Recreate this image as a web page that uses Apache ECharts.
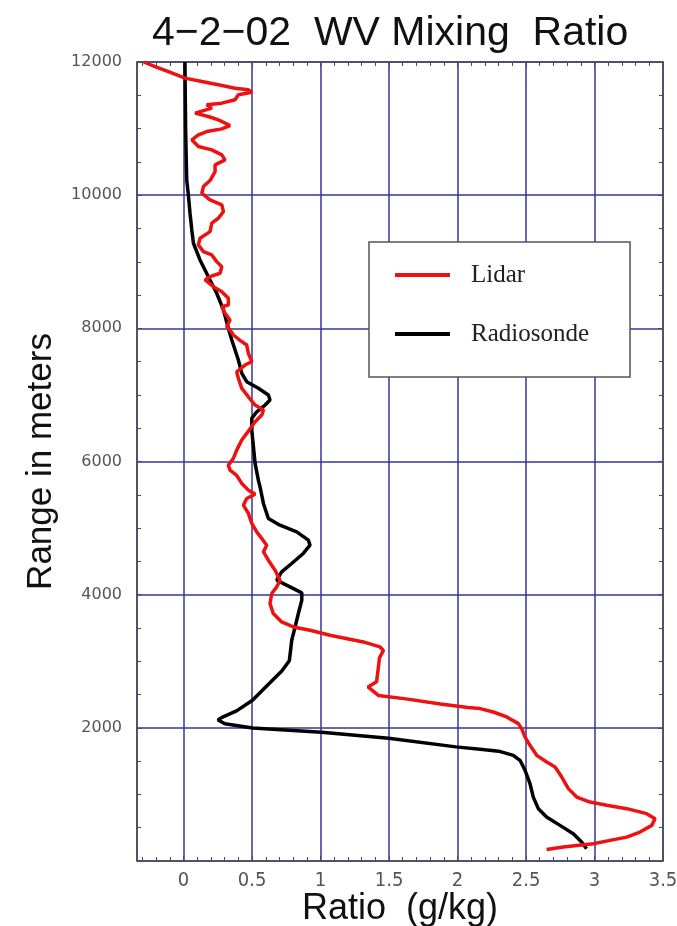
<!DOCTYPE html>
<html>
<head>
<meta charset="utf-8">
<title>4-2-02 WV Mixing Ratio</title>
<script src="https://cdn.jsdelivr.net/npm/echarts@6/dist/echarts.min.js"></script>
<style>
  html, body { margin: 0; padding: 0; background: #ffffff; }
  #chart { width: 677px; height: 926px; }
</style>
</head>
<body>
<div id="chart"></div>
<script>
// Water vapour mixing ratio profiles, [ratio g/kg, range m], top to bottom.
const lidarProfile = [
  [-0.29, 12000], [-0.208, 11932], [-0.111, 11857], [0.011, 11758], [0.133, 11707],
  [0.254, 11657], [0.376, 11607], [0.473, 11582], [0.498, 11547], [0.400, 11507],
  [0.376, 11432], [0.279, 11382], [0.169, 11357], [0.206, 11307], [0.084, 11232],
  [0.181, 11181], [0.254, 11131], [0.339, 11046], [0.279, 10996], [0.169, 10956],
  [0.108, 10906], [0.060, 10831], [0.108, 10730], [0.206, 10680], [0.279, 10605],
  [0.303, 10530], [0.230, 10455], [0.230, 10354], [0.193, 10220], [0.145, 10129],
  [0.133, 10029], [0.193, 9929], [0.279, 9854], [0.291, 9753], [0.254, 9653],
  [0.206, 9579], [0.193, 9453], [0.120, 9353], [0.108, 9253], [0.145, 9152],
  [0.206, 9102], [0.242, 9002], [0.279, 8926], [0.266, 8827], [0.193, 8776],
  [0.157, 8726], [0.218, 8626], [0.279, 8551], [0.327, 8451], [0.327, 8351],
  [0.279, 8325], [0.303, 8226], [0.339, 8125], [0.315, 8025], [0.339, 7975],
  [0.364, 7900], [0.412, 7820], [0.461, 7749], [0.473, 7625], [0.498, 7499],
  [0.449, 7449], [0.388, 7348], [0.400, 7249], [0.425, 7099], [0.473, 6972],
  [0.522, 6848], [0.583, 6773], [0.571, 6697], [0.522, 6597], [0.461, 6422],
  [0.425, 6322], [0.388, 6171], [0.364, 6047], [0.327, 5946], [0.339, 5871],
  [0.388, 5790], [0.425, 5671], [0.473, 5570], [0.522, 5510], [0.461, 5445],
  [0.437, 5345], [0.473, 5220], [0.498, 5070], [0.534, 4943], [0.571, 4844],
  [0.607, 4743], [0.583, 4643], [0.619, 4518], [0.668, 4368], [0.704, 4217],
  [0.680, 4117], [0.644, 4017], [0.631, 3867], [0.655, 3717], [0.716, 3591],
  [0.801, 3515], [0.923, 3466], [1.069, 3391], [1.312, 3290], [1.434, 3215],
  [1.459, 3161], [1.430, 3050], [1.422, 2901], [1.409, 2693], [1.346, 2615],
  [1.422, 2486], [1.623, 2435], [1.875, 2357], [2.076, 2306], [2.164, 2289],
  [2.261, 2238], [2.359, 2163], [2.444, 2063], [2.468, 1988], [2.493, 1862],
  [2.529, 1737], [2.578, 1587], [2.651, 1486], [2.712, 1411], [2.761, 1261],
  [2.809, 1087], [2.870, 960], [2.967, 885], [3.089, 836], [3.235, 786],
  [3.381, 711], [3.442, 636], [3.418, 535], [3.332, 434], [3.235, 359],
  [3.113, 310], [2.991, 260], [2.870, 234], [2.772, 209], [2.650, 174]
];

const radiosondeProfile = [
  [0.010, 12000], [0.015, 11000], [0.020, 10500], [0.023, 10229], [0.035, 10004],
  [0.047, 9729], [0.060, 9478], [0.072, 9278], [0.120, 9027], [0.181, 8776],
  [0.242, 8527], [0.291, 8276], [0.327, 8001], [0.352, 7825], [0.376, 7675],
  [0.400, 7524], [0.425, 7324], [0.461, 7198], [0.546, 7099], [0.619, 6998],
  [0.631, 6923], [0.595, 6848], [0.534, 6747], [0.498, 6648], [0.498, 6472],
  [0.510, 6221], [0.522, 5971], [0.546, 5720], [0.558, 5620], [0.583, 5370],
  [0.619, 5145], [0.704, 5044], [0.826, 4943], [0.911, 4819], [0.923, 4743],
  [0.874, 4619], [0.789, 4468], [0.716, 4342], [0.680, 4217], [0.777, 4117],
  [0.863, 4027], [0.863, 3917], [0.838, 3717], [0.814, 3515], [0.790, 3319],
  [0.772, 3008], [0.717, 2854], [0.616, 2647], [0.503, 2414], [0.390, 2258],
  [0.277, 2154], [0.251, 2118], [0.302, 2061], [0.503, 1999], [1.007, 1932],
  [1.497, 1843], [1.988, 1714], [2.200, 1670], [2.300, 1650], [2.407, 1587],
  [2.456, 1512], [2.493, 1362], [2.529, 1162], [2.553, 960], [2.590, 786],
  [2.650, 660], [2.748, 535], [2.845, 410], [2.906, 284], [2.942, 185]
];

const rangeTicks = [2000, 4000, 6000, 8000, 10000, 12000];
const ratioTicks = [0, 0.5, 1, 1.5, 2, 2.5, 3, 3.5];
const seriesNames = ['Lidar', 'Radiosonde'];

const gridColor = '#34349a';
const frameColor = '#4a4a5a';
const labelColor = '#555555';

const chart = echarts.init(document.getElementById('chart'), null, { renderer: 'canvas' });

const insideTick = { show: true, inside: true, length: 5, lineStyle: { color: frameColor, width: 1 } };
const frameLine = { show: true, onZero: false, lineStyle: { color: frameColor, width: 1.5 } };

// Opposite frame edges: inward ticks only, no labels or grid.
function frameAxis(extra) {
  return Object.assign({
    type: 'value',
    axisLine: frameLine,
    axisTick: insideTick,
    axisLabel: { show: false },
    splitLine: { show: false }
  }, extra);
}

chart.setOption({
  animation: false,
  backgroundColor: '#ffffff',
  title: {
    text: '4\u22122\u221202  WV Mixing  Ratio',
    left: 147,
    top: 8,
    textStyle: {
      fontFamily: 'Liberation Sans, Arial, sans-serif',
      fontSize: 41,
      fontWeight: 'normal',
      color: '#111111'
    }
  },
  grid: { left: 137, right: 14, top: 62, bottom: 65, containLabel: false, outerBoundsMode: 'none' },
  legend: {
    orient: 'vertical',
    left: 369,
    top: 242,
    data: seriesNames.map(n => ({ name: n, icon: 'rect' })),
    itemWidth: 55,
    itemHeight: 4,
    itemGap: 23,
    padding: [15, 41, 25, 26],
    backgroundColor: '#ffffff',
    borderColor: '#555555',
    borderWidth: 1.5,
    borderRadius: 0,
    textStyle: {
      fontFamily: 'Liberation Serif, Times New Roman, serif',
      fontSize: 25,
      lineHeight: 26,
      color: '#222222',
      padding: [10, 0, 0, 16]
    }
  },
  xAxis: [
    {
      type: 'value',
      min: -0.34,
      max: 3.5,
      splitNumber: 8,
      name: 'Ratio  (g/kg)',
      nameLocation: 'middle',
      nameGap: 30,
      nameMoveOverlap: false,
      nameTextStyle: {
        fontFamily: 'Liberation Sans, Arial, sans-serif',
        fontSize: 36,
        color: '#111111'
      },
      axisLine: frameLine,
      axisTick: insideTick,
      minorTick: { show: true, splitNumber: 5, length: 4, lineStyle: { color: frameColor, width: 1 } },
      axisLabel: {
        margin: 10,
        fontFamily: 'Liberation Sans Narrow, Arial Narrow, DejaVu Sans Condensed, sans-serif',
        fontSize: 20,
        color: labelColor,
        formatter: v => {
          const r = Math.round(v * 100) / 100;
          return ratioTicks.includes(r) ? String(r) : '';
        }
      },
      splitLine: { show: true, lineStyle: { color: gridColor, width: 1.5 } }
    },
    frameAxis({ position: 'top', min: -0.34, max: 3.5, splitNumber: 8,
      minorTick: { show: true, splitNumber: 5, length: 4, lineStyle: { color: frameColor, width: 1 } } })
  ],
  yAxis: [
    {
      type: 'value',
      min: 0,
      max: 12000,
      interval: 2000,
      name: 'Range in meters',
      nameLocation: 'middle',
      nameGap: 78,
      nameMoveOverlap: false,
      nameTextStyle: {
        fontFamily: 'Liberation Sans, Arial, sans-serif',
        fontSize: 35,
        color: '#111111'
      },
      axisLine: frameLine,
      axisTick: insideTick,
      minorTick: { show: true, splitNumber: 4, length: 4, lineStyle: { color: frameColor, width: 1 } },
      axisLabel: {
        margin: 15,
        fontFamily: 'DejaVu Sans, Verdana, sans-serif',
        fontSize: 16,
        color: labelColor,
        formatter: v => (rangeTicks.includes(v) ? String(v) : '')
      },
      splitLine: { show: true, lineStyle: { color: gridColor, width: 1.5 } }
    },
    frameAxis({ position: 'right', min: 0, max: 12000, interval: 2000,
      minorTick: { show: true, splitNumber: 4, length: 4, lineStyle: { color: frameColor, width: 1 } } })
  ],
  series: [
    {
      name: seriesNames[1],
      type: 'line',
      data: radiosondeProfile,
      showSymbol: false,
      symbol: 'none',
      lineStyle: { color: '#000000', width: 3.5 },
      itemStyle: { color: '#000000' },
      z: 3
    },
    {
      name: seriesNames[0],
      type: 'line',
      data: lidarProfile,
      showSymbol: false,
      symbol: 'none',
      lineStyle: { color: '#ee1111', width: 3.5 },
      itemStyle: { color: '#ee1111' },
      z: 4
    }
  ]
});
</script>
</body>
</html>
